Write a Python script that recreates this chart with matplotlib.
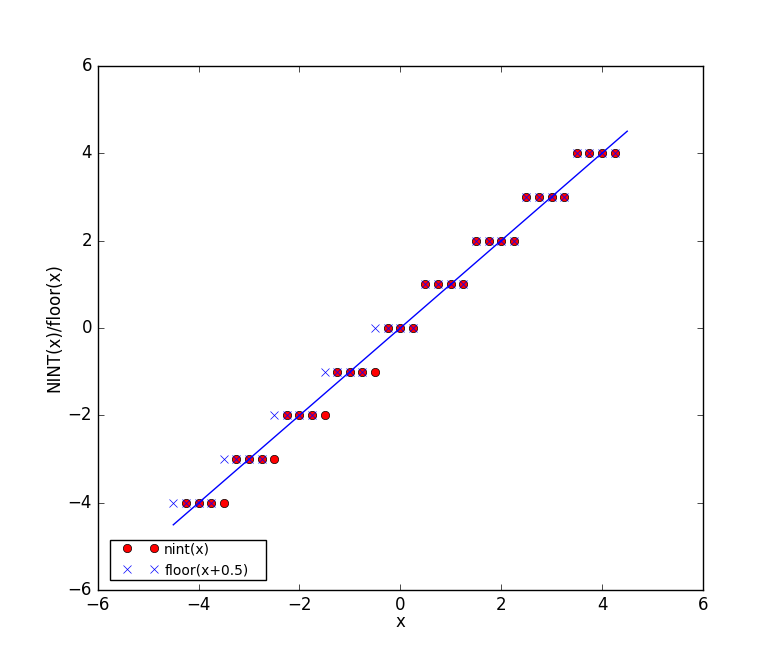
import matplotlib
matplotlib.use("Agg")
import matplotlib.pyplot as plt
from matplotlib.lines import Line2D
from matplotlib.legend_handler import HandlerLine2D

plt.style.use('classic')

x = [-4.5, -4.25, -4.0, -3.75, -3.5, -3.25, -3.0, -2.75, -2.5, -2.25, -2.0, -1.75,
     -1.5, -1.25, -1.0, -0.75, -0.5, -0.25, 0.0, 0.25, 0.5, 0.75, 1.0, 1.25,
     1.5, 1.75, 2.0, 2.25, 2.5, 2.75, 3.0, 3.25, 3.5, 3.75, 4.0, 4.25]
nint_vals = [-5, -4, -4, -4, -4, -3, -3, -3, -3, -2, -2, -2,
             -2, -1, -1, -1, -1, 0, 0, 0, 1, 1, 1, 1,
             2, 2, 2, 2, 3, 3, 3, 3, 4, 4, 4, 4]
floor_vals = [-4, -4, -4, -4, -3, -3, -3, -3, -2, -2, -2, -2,
              -1, -1, -1, -1, 0, 0, 0, 0, 1, 1, 1, 1,
              2, 2, 2, 2, 3, 3, 3, 3, 4, 4, 4, 4]
line_x = [-4.5, 4.5]
line_y = [-4.5, 4.5]

fig = plt.figure(figsize=(7.81, 6.56), dpi=100)
ax = fig.add_subplot(111)
ax.plot(x, nint_vals, 'ro', label='nint(x)')
ax.plot(x, floor_vals, 'bx', label='floor(x+0.5)')
ax.plot(line_x, line_y, 'b-')
ax.set_xlim(-6, 6)
ax.set_ylim(-6, 6)
ax.set_xlabel('x', labelpad=-1)
ax.set_ylabel('NINT(x)/floor(x)', labelpad=3)
ax.legend(loc='lower left', numpoints=2, prop={'size': 10},
          bbox_to_anchor=(0.0205, 0.0198, 0.258, 0.1), mode='expand',
          borderaxespad=0, borderpad=0.2, labelspacing=0.5,
          handlelength=4.0, handletextpad=-0.3,
          handler_map={Line2D: HandlerLine2D(marker_pad=1.0)})
fig.savefig('out.png', dpi=100)
